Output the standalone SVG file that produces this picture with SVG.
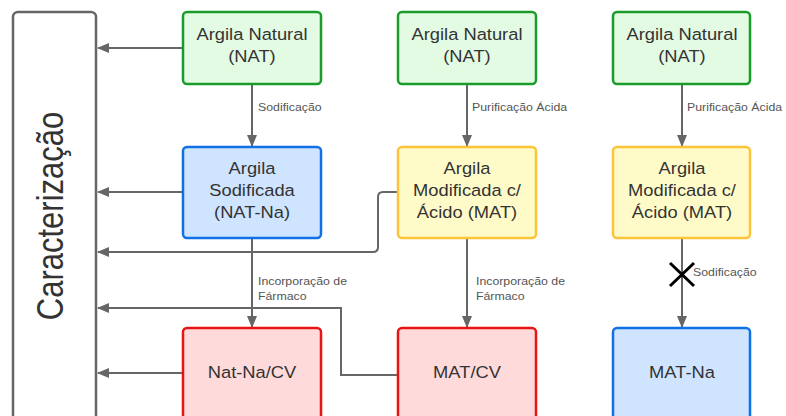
<svg xmlns="http://www.w3.org/2000/svg" width="786" height="416" viewBox="0 0 786 416">
<defs>
<marker id="ah" viewBox="0 0 12 10" refX="11" refY="5" markerWidth="12" markerHeight="10" markerUnits="userSpaceOnUse" orient="auto">
<path d="M0,0 L12,5 L0,10 Z" fill="#666"/>
</marker>
<style>
.n{font-family:"Liberation Sans",Arial,sans-serif;font-size:16.5px;fill:#333;text-anchor:middle}
.l{font-family:"Liberation Sans",Arial,sans-serif;font-size:11.2px;fill:#555}
.c{fill:none;stroke:#666;stroke-width:2}
.g{fill:#e3fae3;stroke:#1a9c2a;stroke-width:2.5}
.b{fill:#cfe4ff;stroke:#1071e5;stroke-width:2.5}
.y{fill:#fffbc9;stroke:#fcc438;stroke-width:2.5}
.r{fill:#ffdada;stroke:#e81313;stroke-width:2.5}
</style>
</defs>
<rect width="786" height="416" fill="#fff"/>
<g id="caracterizacao">
<rect x="13" y="12" width="83" height="420" rx="5" fill="#fff" stroke="#666" stroke-width="2.5"/>
<text transform="translate(63,216) scale(1.17,1) rotate(-90)" font-family="'Liberation Sans',Arial,sans-serif" font-size="31" fill="#333" text-anchor="middle">Caracterização</text>
</g>
<g id="connectors">
<path class="c" d="M183,48 H98" marker-end="url(#ah)"/>
<path class="c" d="M183,192 H98" marker-end="url(#ah)"/>
<path class="c" d="M183,373 H98" marker-end="url(#ah)"/>
<path class="c" d="M398,192 H383 Q378,192 378,197 V247 Q378,252 373,252 H98" marker-end="url(#ah)"/>
<path class="c" d="M398,375 H341 V308 H98" marker-end="url(#ah)"/>
<path class="c" d="M252,84 V146" marker-end="url(#ah)"/>
<path class="c" d="M467,84 V146" marker-end="url(#ah)"/>
<path class="c" d="M682,84 V146" marker-end="url(#ah)"/>
<path class="c" d="M252,238 V327" marker-end="url(#ah)"/>
<path class="c" d="M467,238 V327" marker-end="url(#ah)"/>
<path class="c" d="M682,238 V327" marker-end="url(#ah)"/>
<path d="M670,263 L694,286 M694,263 L670,286" stroke="#000" stroke-width="3" fill="none"/>
<text class="l" transform="translate(258,111) scale(1.1,1)">Sodificação</text>
<text class="l" transform="translate(472,111) scale(1.1,1)">Purificação Ácida</text>
<text class="l" transform="translate(687,111) scale(1.1,1)">Purificação Ácida</text>
<text class="l" transform="translate(258,285) scale(1.1,1)">Incorporação de</text>
<text class="l" transform="translate(258,300) scale(1.1,1)">Fármaco</text>
<text class="l" transform="translate(476,285) scale(1.1,1)">Incorporação de</text>
<text class="l" transform="translate(476,300) scale(1.1,1)">Fármaco</text>
<text class="l" transform="translate(693,276) scale(1.1,1)">Sodificação</text>
</g>
<g id="nat1"><rect class="g" x="183" y="12" width="138" height="72" rx="4"/><text class="n" transform="translate(252,40) scale(1.11,1)">Argila Natural</text><text class="n" transform="translate(252,62) scale(1.11,1)">(NAT)</text></g>
<g id="nat2"><rect class="g" x="398" y="12" width="138" height="72" rx="4"/><text class="n" transform="translate(467,40) scale(1.11,1)">Argila Natural</text><text class="n" transform="translate(467,62) scale(1.11,1)">(NAT)</text></g>
<g id="nat3"><rect class="g" x="613" y="12" width="137" height="72" rx="4"/><text class="n" transform="translate(682,40) scale(1.11,1)">Argila Natural</text><text class="n" transform="translate(682,62) scale(1.11,1)">(NAT)</text></g>
<g id="natna"><rect class="b" x="183" y="147" width="138" height="91" rx="4"/><text class="n" transform="translate(252,174) scale(1.11,1)">Argila</text><text class="n" transform="translate(252,196) scale(1.11,1)">Sodificada</text><text class="n" transform="translate(252,218) scale(1.11,1)">(NAT-Na)</text></g>
<g id="mat2"><rect class="y" x="398" y="147" width="138" height="91" rx="4"/><text class="n" transform="translate(467,174) scale(1.11,1)">Argila</text><text class="n" transform="translate(467,196) scale(1.11,1)">Modificada c/</text><text class="n" transform="translate(467,218) scale(1.11,1)">Ácido (MAT)</text></g>
<g id="mat3"><rect class="y" x="613" y="147" width="137" height="91" rx="4"/><text class="n" transform="translate(682,174) scale(1.11,1)">Argila</text><text class="n" transform="translate(682,196) scale(1.11,1)">Modificada c/</text><text class="n" transform="translate(682,218) scale(1.11,1)">Ácido (MAT)</text></g>
<g id="natnacv"><rect class="r" x="183" y="328" width="138" height="100" rx="4"/><text class="n" transform="translate(252,378) scale(1.11,1)">Nat-Na/CV</text></g>
<g id="matcv"><rect class="r" x="398" y="328" width="138" height="100" rx="4"/><text class="n" transform="translate(467,378) scale(1.11,1)">MAT/CV</text></g>
<g id="matna"><rect class="b" x="613" y="328" width="137" height="100" rx="4"/><text class="n" transform="translate(682,378) scale(1.11,1)">MAT-Na</text></g>
</svg>
